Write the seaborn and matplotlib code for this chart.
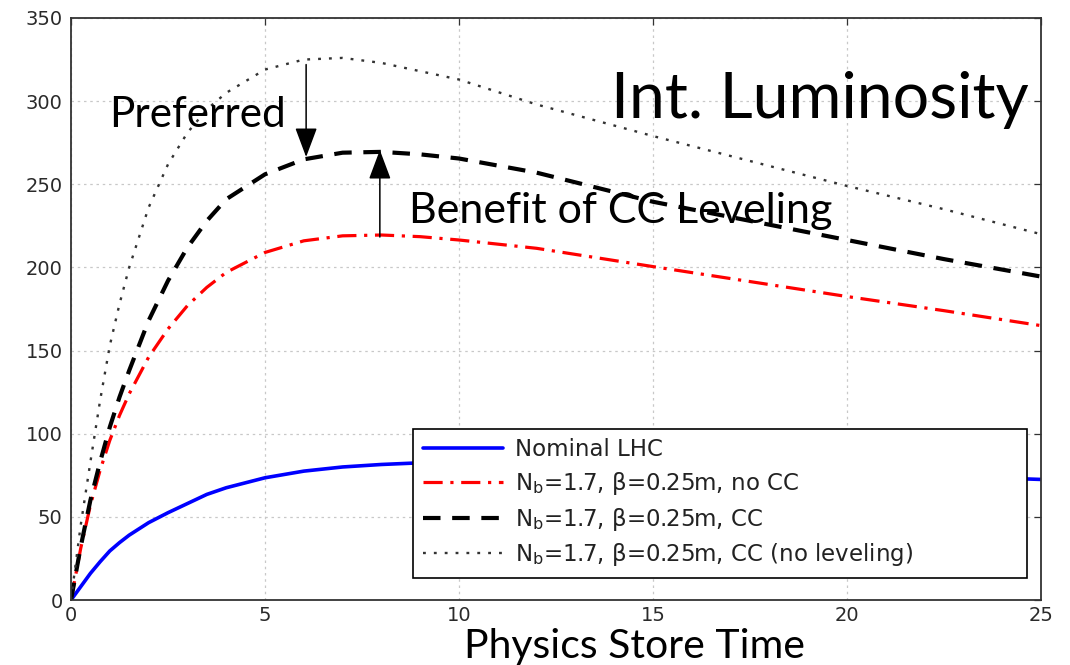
import numpy as np
import pandas as pd
import matplotlib
matplotlib.use("Agg")
import matplotlib.pyplot as plt
import seaborn as sns

# ---------------- data ----------------
time_h = [0, 0.25, 0.5, 0.75, 1, 1.25, 1.5, 2, 2.5, 3, 3.5, 4, 5, 6, 7, 8, 9, 10,
          12, 15, 17.5, 20, 22.5, 25]
nominal_lhc = [0, 8, 16, 23, 29.5, 34.5, 39, 46.5, 52.5, 58, 63.5, 67.5, 73.5, 77.5,
               80, 81.5, 82.5, 82.5, 82, 80, 78.5, 76.5, 74.5, 72.5]
nb_no_cc = [0, 31, 57, 78, 96, 111, 124, 146, 163, 177, 188, 197, 209, 216, 219,
            219.5, 218.5, 216.5, 211.5, 200.5, 191.5, 182.5, 174, 165]
nb_cc = [0, 32, 60, 83, 104, 122, 138, 168, 192, 212, 228, 241, 256, 265, 269,
         269.5, 268, 265.5, 257, 239.5, 228, 216.5, 205, 194.5]
nb_cc_no_level = [0, 45, 83, 120, 153, 178, 200, 236, 262, 281, 295, 305, 319, 325,
                  326, 323, 318, 313, 298, 279, 264, 249, 235, 220]

series_labels = [
    "Nominal LHC",
    r"N$_\mathrm{b}$=1.7, β=0.25m, no CC",
    r"N$_\mathrm{b}$=1.7, β=0.25m, CC",
    r"N$_\mathrm{b}$=1.7, β=0.25m, CC (no leveling)",
]
x_ticks = [0, 5, 10, 15, 20, 25]
y_ticks = [0, 50, 100, 150, 200, 250, 300, 350]

# ---------------- style ----------------
sns.set_theme(style="white")
plt.rcParams['font.family'] = ['DejaVu Sans']
plt.rcParams['mathtext.fontset'] = 'dejavusans'

fig = plt.figure(figsize=(10.7, 6.65), dpi=100)
ax = fig.add_axes([71 / 1070, 1 - 600 / 665, 970 / 1070, 582 / 665])

df = pd.DataFrame({
    "t": time_h,
    "nominal": nominal_lhc,
    "no_cc": nb_no_cc,
    "cc": nb_cc,
    "cc_nolev": nb_cc_no_level,
})

styles = [
    ("nominal", "#0000ff", 2.6, "-"),
    ("no_cc", "#ff0000", 2.3, (0, (6.0, 2.4, 1.0, 2.4))),
    ("cc", "#000000", 3.0, (0, (4.2, 2.8))),
    ("cc_nolev", "#333333", 1.7, (0, (1.2, 3.4))),
]
for (col, color, lw, ls), lab in zip(styles, series_labels):
    sns.lineplot(data=df, x="t", y=col, ax=ax, color=color, linewidth=lw,
                 linestyle=ls, estimator=None, label=lab, sort=False)

ax.set_xlim(0, 25)
ax.set_ylim(0, 350)
ax.set_xticks(x_ticks)
ax.set_yticks(y_ticks)
ax.set_xlabel("")
ax.set_ylabel("")
ax.grid(True, linestyle=(0, (2, 3)), color="#c8c8c8", linewidth=0.9)
for s in ax.spines.values():
    s.set_visible(True)
    s.set_color("#333333")
    s.set_linewidth(1.3)
ax.tick_params(direction="in", top=True, right=True, length=5, width=0.9,
               colors="#333333", labelsize=14)
ax.tick_params(axis="x", pad=4)
ax.tick_params(axis="y", pad=6)
for lbl in ax.get_xticklabels() + ax.get_yticklabels():
    lbl.set_color("#2a2a2a")

leg = ax.legend(loc="lower left", bbox_to_anchor=(0.3526, 0.0378, 0.633, 0.258),
                mode="expand", borderaxespad=0, fontsize=16.5, frameon=True,
                fancybox=False, framealpha=1, edgecolor="black",
                handlelength=3.5, handletextpad=0.55, labelspacing=0.38,
                borderpad=0.42)
leg.get_frame().set_linewidth(1.2)
for t in leg.get_texts():
    t.set_color("#222222")

# ---------------- annotations ----------------
big_font = ["Lato", "DejaVu Sans"]
t_pref = ax.text(0.99, 284.2, "Preferred", fontsize=29, family=big_font,
                 ha="left", va="baseline", color="black")
t_ben = ax.text(8.71, 226.9, "Benefit of CC Leveling", fontsize=29, family=big_font,
                ha="left", va="baseline", color="black")
t_int = ax.text(24.67, 289.6, "Int. Luminosity", fontsize=47, family=big_font,
                ha="right", va="baseline", color="black")
t_xl = fig.text(635 / 1070, 1 - 658 / 665, "Physics Store Time", fontsize=29,
                family=big_font, ha="center", va="baseline", color="black")

arrow_kw = dict(arrowstyle="-|>,head_length=0.8,head_width=0.3", color="black",
                lw=1.1, mutation_scale=23, shrinkA=0, shrinkB=0)
ax.annotate("", xy=(6.06, 266.4), xytext=(6.06, 322), arrowprops=arrow_kw)
ax.annotate("", xy=(7.96, 270.6), xytext=(7.96, 218.3), arrowprops=arrow_kw)

# fit large text widths to the reference
fig.canvas.draw()
r = fig.canvas.get_renderer()
for txt, target in [(t_pref, 177), (t_ben, 424), (t_int, 418), (t_xl, 341)]:
    w = txt.get_window_extent(r).width
    txt.set_fontsize(txt.get_fontsize() * target / w)

fig.savefig("out.png", dpi=100)
